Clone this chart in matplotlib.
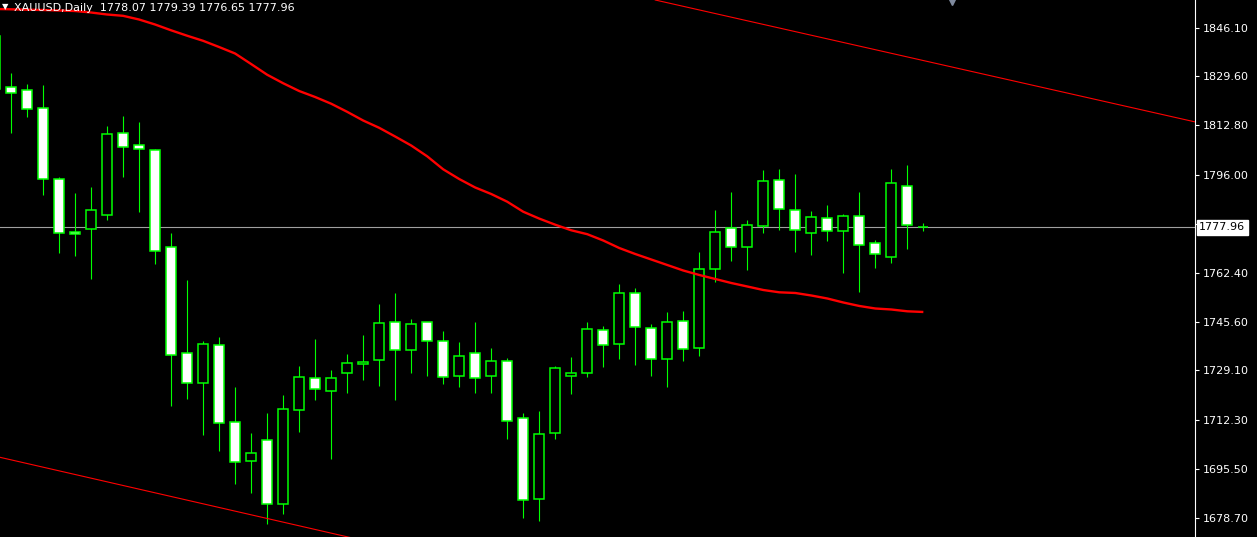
import matplotlib
matplotlib.use("Agg")
import matplotlib.pyplot as plt
import matplotlib.patches as mp
import matplotlib.transforms as mtrans

W, H = 1257, 537

# candle index -1 is the bar cut off at the left edge
idx = list(range(-1, 58))
opens = [1843.37,
         1825.95, 1824.92, 1818.77, 1794.51, 1776.41, 1777.43, 1782.22, 1810.23, 1806.13, 1804.42,
         1771.28, 1735.07, 1724.82, 1737.80, 1711.49, 1698.17, 1705.34, 1683.48, 1715.59, 1726.53,
         1722.08, 1728.23, 1731.31, 1732.67, 1745.66, 1736.09, 1745.66, 1739.17, 1727.21, 1735.07,
         1727.21, 1732.33, 1712.86, 1685.19, 1707.74, 1727.21, 1728.23, 1742.93, 1738.14, 1755.57,
         1743.61, 1733.02, 1746.00, 1736.78, 1763.77, 1777.77, 1771.28, 1778.46, 1794.17, 1783.92,
         1776.07, 1781.19, 1776.75, 1781.87, 1772.65, 1767.87, 1792.12, 1778.07]
highs = [1846.00,
         1830.73, 1826.97, 1826.63, 1795.20, 1789.73, 1791.78, 1812.62, 1816.04, 1813.99, 1804.76,
         1776.07, 1760.01, 1739.17, 1740.53, 1723.45, 1707.74, 1714.57, 1720.72, 1730.63, 1739.85,
         1729.26, 1734.73, 1741.22, 1751.81, 1755.57, 1746.68, 1745.66, 1742.58, 1738.83, 1745.66,
         1736.78, 1733.36, 1714.57, 1715.25, 1730.63, 1733.70, 1745.66, 1744.29, 1758.64, 1757.27,
         1744.98, 1749.08, 1749.42, 1769.57, 1783.92, 1790.07, 1780.51, 1797.59, 1797.93, 1796.22,
         1783.58, 1785.63, 1782.56, 1790.07, 1773.67, 1797.93, 1799.30, 1779.39]
lows = [1822.00,
        1810.23, 1815.70, 1789.05, 1769.23, 1768.21, 1760.35, 1780.51, 1795.20, 1783.24, 1765.47,
        1716.96, 1719.35, 1707.05, 1701.59, 1690.31, 1687.24, 1676.65, 1680.06, 1708.08, 1719.01,
        1698.85, 1721.40, 1725.84, 1723.79, 1719.01, 1728.23, 1727.21, 1724.48, 1723.45, 1721.40,
        1721.40, 1705.69, 1678.70, 1677.67, 1705.69, 1721.06, 1726.87, 1730.28, 1733.02, 1730.97,
        1727.21, 1723.45, 1732.33, 1734.04, 1759.32, 1766.50, 1763.42, 1776.07, 1777.09, 1769.57,
        1768.55, 1773.33, 1762.40, 1755.91, 1764.11, 1765.82, 1770.60, 1776.65]
closes = [1825.26,
          1823.90, 1818.43, 1794.51, 1776.07, 1775.72, 1783.92, 1809.89, 1805.45, 1804.76, 1769.92,
          1734.38, 1724.82, 1738.14, 1711.15, 1697.83, 1700.90, 1683.48, 1715.94, 1726.87, 1722.77,
          1726.53, 1731.65, 1731.99, 1745.32, 1736.09, 1744.98, 1739.17, 1726.87, 1734.04, 1726.53,
          1732.33, 1711.84, 1684.84, 1707.39, 1729.94, 1728.23, 1743.27, 1737.80, 1755.57, 1743.95,
          1733.02, 1745.66, 1736.43, 1763.77, 1776.41, 1771.28, 1778.80, 1793.83, 1784.27, 1777.09,
          1781.53, 1776.75, 1781.87, 1771.97, 1768.89, 1793.15, 1778.80, 1777.96]
ma = [1852.60,
      1852.49, 1852.36, 1852.25, 1852.08, 1851.91, 1851.40, 1850.72, 1850.27, 1849.01, 1847.30,
      1845.32, 1843.47, 1841.73, 1839.61, 1837.39, 1833.80, 1830.15, 1827.24, 1824.58, 1822.53,
      1820.24, 1817.47, 1814.50, 1812.01, 1809.03, 1805.96, 1802.27, 1797.83, 1794.51, 1791.61,
      1789.39, 1786.76, 1783.34, 1780.99, 1778.90, 1776.99, 1775.66, 1773.50, 1770.94, 1768.89,
      1767.01, 1765.13, 1763.25, 1761.72, 1760.35, 1758.98, 1757.79, 1756.59, 1755.80, 1755.57,
      1754.71, 1753.69, 1752.32, 1751.13, 1750.27, 1749.93, 1749.31, 1749.08]

# channel trend lines: (bar index, price) anchors
upper_x = [40.25, 74.0]
upper_y = [1855.67, 1813.99]
lower_x = [-0.69, 22.0]
lower_y = [1699.43, 1671.02]

ticks = [1846.10, 1829.60, 1812.80, 1796.00, 1779.20, 1762.40,
         1745.60, 1729.10, 1712.30, 1695.50, 1678.70]
last_price = 1777.96
title = "XAUUSD,Daily  1778.07 1779.39 1776.65 1777.96"

GREEN = "#00ff00"
BG = "black"

fig = plt.figure(figsize=(W / 100, H / 100), dpi=100, facecolor=BG)
ax = fig.add_axes([0, 0, 1194.5 / W, 1])
ax.set_facecolor(BG)
ax.set_xlim(-0.6875, 73.94)
ax.set_ylim(1672.20, 1855.67)

# price line
ax.axhline(last_price, color="#a0a0a0", lw=0.8, zorder=1)

# trend channel
ax.plot(upper_x, upper_y, color="red", lw=0.8, zorder=5)
ax.plot(lower_x, lower_y, color="red", lw=0.8, zorder=5)

# moving average, drawn over the candles like the terminal does
ax.plot(idx, ma, color="red", lw=1.7, zorder=5, solid_capstyle="butt")

# candles
bw = 0.62
ax.vlines(idx, lows, highs, color=GREEN, lw=0.8, zorder=3)
for i, o, c in zip(idx, opens, closes):
    fill = "white" if c < o else "black"
    lo = min(o, c)
    ax.add_patch(mp.Rectangle((i - bw / 2, lo), bw, abs(c - o),
                              facecolor=fill, edgecolor=GREEN, lw=1.1, zorder=4))

# right price scale
for s in ["top", "left", "bottom"]:
    ax.spines[s].set_visible(False)
ax.spines["right"].set_color("white")
ax.spines["right"].set_linewidth(0.8)
ax.set_xticks([])
ax.yaxis.tick_right()
ax.set_yticks(ticks)
# the label under the last-price box is hidden in the terminal
ax.set_yticklabels(["" if abs(t - last_price) < 5 else f"{t:.2f}" for t in ticks])
ax.tick_params(axis="y", colors="white", length=3, width=0.8, pad=3, labelsize=8)

trans = mtrans.blended_transform_factory(ax.transAxes, ax.transData)
ax.text(1.004, last_price, f"{last_price:.2f}", transform=trans, ha="left", va="center",
        fontsize=8, color="black", zorder=10,
        bbox=dict(boxstyle="square,pad=0.2", fc="white", ec="white"))

# header
fig.text(14 / W, 1 - 8 / H, title, color="white", fontsize=8, ha="left", va="center")
fig.text(5 / W, 1 - 7 / H, "\u25bc", color="white", fontsize=6, ha="center", va="center")
ax.plot([58.8], [1855.67], marker="v", ms=7, color="#7f8a9e", clip_on=False, zorder=6)

fig.savefig("out.png", dpi=100, facecolor=BG)
